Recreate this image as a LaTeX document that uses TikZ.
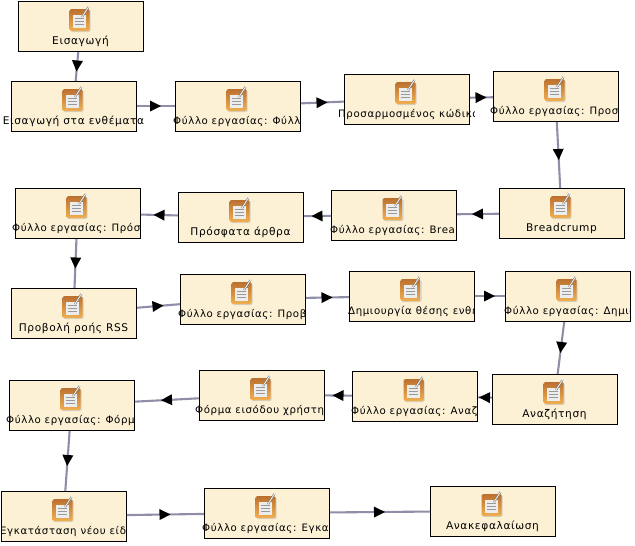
\documentclass[tikz,border=0pt]{standalone}
\usepackage{fontspec}
\setmainfont[LetterSpace=6]{DejaVu Sans}
\usetikzlibrary{arrows.meta,decorations.markings,backgrounds}
\definecolor{boxfill}{HTML}{FCF1D5}
\definecolor{edgecol}{HTML}{8E8EA8}
\definecolor{iconor}{HTML}{F0B050}
\definecolor{iconbr}{HTML}{BC7030}
\tikzset{x=1pt,y=-1pt,
  card/.style={draw=black,line width=1pt,fill=boxfill,minimum width=125pt,minimum height=50pt,inner sep=0pt,outer sep=0pt},
  lab/.style={font=\fontsize{10.6}{12}\selectfont,text=black,inner sep=0pt,anchor=base},
  labw/.style={font=\fontsize{10.2}{12}\selectfont,text=black,inner sep=0pt,anchor=base west},
  flow/.style={draw=edgecol,line width=2.1pt,postaction={decorate},
    decoration={markings,mark=at position 0.5 with {\fill[black] (5.5pt,0pt) -- (-5.5pt,5.5pt) -- (-5.5pt,-5.5pt) -- cycle;}}}}
\newcommand{\icon}[1]{%
  \begin{scope}[shift={(#1)}]
    \fill[black!30,opacity=.5,rounded corners=1.5pt] (-9,-10) rectangle (11,12);
    \shade[top color=iconbr,bottom color=iconor,rounded corners=1.5pt] (-10,-11) rectangle (10,11);
    \fill[white!93!black] (-6.5,-5.5) rectangle (6.5,8);
    \draw[black!40,line width=.5pt] (-4.5,-2)--(4.5,-2) (-4.5,1)--(4.5,1) (-4.5,4)--(4.5,4);
    \draw[black!50,line width=2pt] (2.5,-3)--(9,-13);
    \draw[white,line width=.7pt] (2.5,-3)--(9,-13);
  \end{scope}}
% centred label
\newcommand{\cardc}[4]{%
  \node[card] (#1) at (#2+62.5,#3+25) {};
  \icon{#2+61.5,#3+19}
  \node[lab] (#1t) at (#2+62.5,#3+43) {#4};}
% label set from a left offset and clipped at a right limit
\newcommand{\cardl}[6]{%
  \node[card] (#1) at (#2+62.5,#3+25) {};
  \icon{#2+61.5,#3+19}
  \begin{scope}
    \clip (#2-8,#3) rectangle (#2+#5,#3+50);
    \node[labw] (#1t) at (#2#6,#3+43) {#4};
  \end{scope}}
\begin{document}
\begin{tikzpicture}
\useasboundingbox (0,0) rectangle (635,546);
\cardc{a}{18}{1}{Εισαγωγή}
\cardc{b}{11}{81}{Εισαγωγή στα ενθέματα}
\cardl{c}{175}{81}{Φύλλο εργασίας: Φύλλο}{125}{-2}
\cardl{d}{344}{74}{Προσαρμοσμένος κώδικας}{130}{-6}
\cardl{e}{493}{71}{Φύλλο εργασίας: Προσα}{125}{-3}
\cardc{f}{499}{188}{Breadcrump}
\cardl{g}{331}{190}{Φύλλο εργασίας: Bread}{125}{-1}
\cardc{h}{178}{192}{Πρόσφατα άρθρα}
\cardl{i}{15}{188}{Φύλλο εργασίας: Πρόσφ}{125}{-3}
\cardc{j}{11}{288}{Προβολή ροής RSS}
\cardl{k}{180}{274}{Φύλλο εργασίας: Προβο}{125}{-2}
\cardl{l}{349}{271}{Δημιουργία θέσης ενθέ}{125}{-1}
\cardl{m}{505}{271}{Φύλλο εργασίας: Δημιο}{125}{-1}
\cardc{n}{492}{374}{Αναζήτηση}
\cardl{o}{352}{371}{Φύλλο εργασίας: Αναζή}{125}{-1}
\cardl{p}{199}{370}{Φόρμα εισόδου χρήστη}{129}{-4}
\cardl{q}{9}{380}{Φύλλο εργασίας: Φόρμα}{125}{-3}
\cardl{r}{1}{491}{Εγκατάσταση νέου είδου}{125}{-1}
\cardl{s}{204}{488}{Φύλλο εργασίας: Εγκατ}{125}{-2}
\cardc{t}{430}{486}{Ανακεφαλαίωση}
\begin{pgfonlayer}{background}
\draw[flow] (a.center)--(b.center);
\draw[flow] (b.center)--(c.center);
\draw[flow] (c.center)--(d.center);
\draw[flow] (d.center)--(e.center);
\draw[flow] (e.center)--(f.center);
\draw[flow] (f.center)--(g.center);
\draw[flow] (g.center)--(h.center);
\draw[flow] (h.center)--(i.center);
\draw[flow] (i.center)--(j.center);
\draw[flow] (j.center)--(k.center);
\draw[flow] (k.center)--(l.center);
\draw[flow] (l.center)--(m.center);
\draw[flow] (m.center)--(n.center);
\draw[flow] (n.center)--(o.center);
\draw[flow] (o.center)--(p.center);
\draw[flow] (p.center)--(q.center);
\draw[flow] (q.center)--(r.center);
\draw[flow] (r.center)--(s.center);
\draw[flow] (s.center)--(t.center);
\end{pgfonlayer}
\end{tikzpicture}
\end{document}
